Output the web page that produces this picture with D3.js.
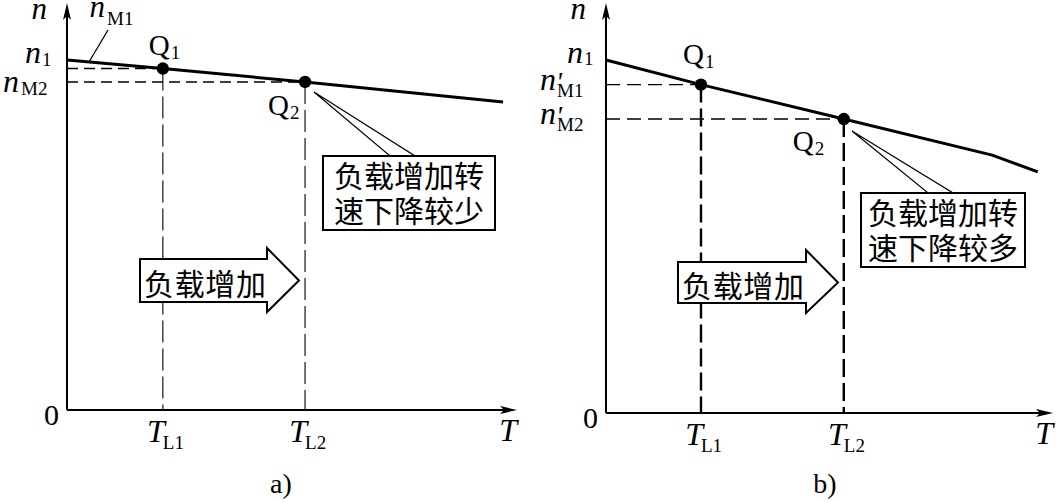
<!DOCTYPE html>
<html>
<head>
<meta charset="utf-8">
<script src="https://cdn.jsdelivr.net/npm/d3@7"></script>
<style>
  html, body { margin: 0; padding: 0; background: #fff; }
  svg { display: block; }
  .serif { font-family: "Liberation Serif", "DejaVu Serif", serif; }
  .cjk { font-family: "Noto Sans CJK SC", "Noto Sans", sans-serif; }
</style>
</head>
<body>
<svg id="chart" width="1056" height="502"></svg>
<script>
// ---------------- data ----------------
// panel a: mechanical characteristic (hard)
const lineA_T = [0, 21.3, 52.9, 96.9];
const lineA_n = [86.0, 83.9, 80.6, 75.7];
const opA_T = [21.3, 52.9];          // T_L1, T_L2
const opA_n = [83.9, 80.6];          // n_M1, n_M2
// panel b: mechanical characteristic (soft)
const lineB_T = [0, 21.25, 53.2, 86.4, 96.6];
const lineB_n = [86.1, 80.1, 71.7, 62.9, 58.8];
const opB_T = [21.25, 53.2];
const opB_n = [80.1, 71.7];

const pointNames = ["Q", "Q"];
const pointSubs = ["1", "2"];
const xTickSubs = ["L1", "L2"];
const captions = ["a)", "b)"];
const noteA = ["负载增加转", "速下降较少"];
const noteB = ["负载增加转", "速下降较多"];
const arrowText = "负载增加";

// ---------------- layout ----------------
const svg = d3.select("#chart");

function drawPanel(cfg) {
  const x = d3.scaleLinear().domain([0, 100]).range(cfg.xRange);
  const y = d3.scaleLinear().domain([0, 100]).range(cfg.yRange);
  const g = svg.append("g");
  const x0 = x(0), y0 = y(0);
  const xEnd = x.range()[1], yTop = y.range()[1];

  // axes
  g.append("line").attr("x1", x0).attr("y1", y0).attr("x2", x0).attr("y2", yTop + 8)
    .attr("stroke", "#000").attr("stroke-width", 2);
  g.append("line").attr("x1", x0).attr("y1", y0).attr("x2", xEnd - 8).attr("y2", y0)
    .attr("stroke", "#000").attr("stroke-width", 2);
  g.append("path")
    .attr("d", `M${x0},${yTop} L${x0 - 4},${yTop + 17} L${x0},${yTop + 13} L${x0 + 4},${yTop + 17} Z`)
    .attr("fill", "#000");
  g.append("path")
    .attr("d", `M${xEnd},${y0} L${xEnd - 17},${y0 - 4} L${xEnd - 13},${y0} L${xEnd - 17},${y0 + 4} Z`)
    .attr("fill", "#000");

  // dashed guides
  cfg.opT.forEach((t, i) => {
    g.append("line").attr("x1", x0).attr("x2", x(t))
      .attr("y1", y(cfg.opN[i])).attr("y2", y(cfg.opN[i]))
      .attr("stroke", "#000").attr("stroke-width", 1.4).attr("stroke-dasharray", cfg.hDash);
    g.append("line").attr("x1", x(t)).attr("x2", x(t))
      .attr("y1", y(cfg.opN[i])).attr("y2", y0)
      .attr("stroke", "#000").attr("stroke-width", cfg.vWidth).attr("stroke-dasharray", cfg.vDash);
  });

  // characteristic line
  const pts = cfg.lineT.map((t, i) => [t, cfg.lineN[i]]);
  g.append("path")
    .attr("d", d3.line().x(d => x(d[0])).y(d => y(d[1]))(pts))
    .attr("fill", "none").attr("stroke", "#000").attr("stroke-width", 3);

  // operating points
  g.selectAll("circle.op").data(cfg.opT).enter().append("circle")
    .attr("cx", d => x(d)).attr("cy", (d, i) => y(cfg.opN[i])).attr("r", 6.2).attr("fill", "#000");

  // point labels
  cfg.opT.forEach((t, i) => {
    const px = x(t), py = y(cfg.opN[i]);
    const off = cfg.qOff[i];
    g.append("text").attr("class", "serif").attr("x", px + off[0]).attr("y", py + off[1])
      .attr("font-size", 29).text(pointNames[i]);
    g.append("text").attr("class", "serif").attr("x", px + off[0] + 22).attr("y", py + off[1] + 4)
      .attr("font-size", 19).text(pointSubs[i]);
  });

  // x tick labels
  cfg.opT.forEach((t, i) => {
    const px = x(t);
    g.append("text").attr("class", "serif").attr("font-style", "italic")
      .attr("x", px + 2).attr("y", y0 + 32).attr("text-anchor", "end").attr("font-size", 32).text("T");
    g.append("text").attr("class", "serif")
      .attr("x", px).attr("y", y0 + 39).attr("font-size", 19).text(xTickSubs[i]);
  });
  g.append("text").attr("class", "serif").attr("font-style", "italic")
    .attr("x", xEnd).attr("y", y0 + 31).attr("text-anchor", "end").attr("font-size", 32).text("T");
  g.append("text").attr("class", "serif")
    .attr("x", x0 - 8).attr("y", y0 + 15).attr("text-anchor", "end").attr("font-size", 30).text("0");
  g.append("text").attr("class", "serif").attr("font-style", "italic")
    .attr("x", x0 - 20).attr("y", yTop + 16).attr("text-anchor", "end").attr("font-size", 31).text("n");

  // caption
  g.append("text").attr("class", "serif")
    .attr("x", cfg.captionX).attr("y", 493).attr("text-anchor", "middle").attr("font-size", 28)
    .text(cfg.caption);

  // load increase arrow
  const a = cfg.arrow;
  g.append("path")
    .attr("d", `M${a.x0},${a.y0} L${a.x1},${a.y0} L${a.x1},${a.hy0} L${a.tip},${(a.y0 + a.y1) / 2} ` +
      `L${a.x1},${a.hy1} L${a.x1},${a.y1} L${a.x0},${a.y1} Z`)
    .attr("fill", "#fff").attr("stroke", "#000").attr("stroke-width", 2);
  g.append("text").attr("class", "cjk")
    .attr("x", a.x0 + 4).attr("y", (a.y0 + a.y1) / 2 + 1).attr("dominant-baseline", "central")
    .attr("font-size", 30).attr("textLength", 122).text(arrowText);

  // callout note
  const b = cfg.box;
  g.append("path")
    .attr("d", `M${b.px},${b.py} L${b.bx0},${b.y0} L${b.bx1},${b.y0} Z`)
    .attr("fill", "#fff").attr("stroke", "#000").attr("stroke-width", 1.2);
  g.append("rect").attr("x", b.x0).attr("y", b.y0).attr("width", b.x1 - b.x0).attr("height", b.y1 - b.y0)
    .attr("fill", "#fff").attr("stroke", "#000").attr("stroke-width", 2);
  const nt = g.append("text").attr("class", "cjk")
    .attr("text-anchor", "middle").attr("font-size", 30);
  cfg.note.forEach((s, i) => {
    nt.append("tspan").attr("x", (b.x0 + b.x1) / 2).attr("y", b.y0 + 31 + i * 35).text(s);
  });

  return { g, x, y };
}

// ---------- panel a ----------
const pa = drawPanel({
  xRange: [67, 517], yRange: [410, 3],
  lineT: lineA_T, lineN: lineA_n, opT: opA_T, opN: opA_n,
  hDash: "11,6", vDash: "22,6", vWidth: 1.1,
  qOff: [[-14, -14], [-37, 33]],
  caption: captions[0], captionX: 281,
  arrow: { x0: 140, x1: 267, y0: 259, y1: 302, hy0: 248, hy1: 312, tip: 299 },
  box: { x0: 323, x1: 495, y0: 156, y1: 230, px: 314, py: 92, bx0: 390, bx1: 415 },
  note: noteA
});
{
  const { g, x, y } = pa;
  // n1 label
  g.append("text").attr("class", "serif").attr("font-style", "italic")
    .attr("x", 41).attr("y", y(lineA_n[0]) + 3).attr("text-anchor", "end").attr("font-size", 32).text("n");
  g.append("text").attr("class", "serif")
    .attr("x", 42).attr("y", y(lineA_n[0]) + 6).attr("font-size", 19).text("1");
  // nM2 label
  g.append("text").attr("class", "serif").attr("font-style", "italic")
    .attr("x", 19).attr("y", y(opA_n[1]) + 10).attr("text-anchor", "end").attr("font-size", 32).text("n");
  g.append("text").attr("class", "serif")
    .attr("x", 21).attr("y", y(opA_n[1]) + 13).attr("font-size", 19).text("M2");
  // nM1 label with leader
  g.append("text").attr("class", "serif").attr("font-style", "italic")
    .attr("x", 105).attr("y", 17).attr("text-anchor", "end").attr("font-size", 31).text("n");
  g.append("text").attr("class", "serif")
    .attr("x", 107).attr("y", 25).attr("font-size", 19).text("M1");
  g.append("line").attr("x1", 108).attr("y1", 30).attr("x2", 89).attr("y2", y(lineA_n[0]) + 2)
    .attr("stroke", "#000").attr("stroke-width", 1.3);
}

// ---------- panel b ----------
const pb = drawPanel({
  xRange: [606, 1053], yRange: [413, 3],
  lineT: lineB_T, lineN: lineB_n, opT: opB_T, opN: opB_n,
  hDash: "14,7", vDash: "18,6", vWidth: 2.4,
  qOff: [[-18, -21], [-51, 32]],
  caption: captions[1], captionX: 825,
  arrow: { x0: 678, x1: 806, y0: 262, y1: 303, hy0: 250, hy1: 313, tip: 838 },
  box: { x0: 861, x1: 1025, y0: 193, y1: 267, px: 852, py: 131, bx0: 928, bx1: 953 },
  note: noteB
});
{
  const { g, x, y } = pb;
  g.append("text").attr("class", "serif").attr("font-style", "italic")
    .attr("x", 583).attr("y", y(lineB_n[0]) + 3).attr("text-anchor", "end").attr("font-size", 32).text("n");
  g.append("text").attr("class", "serif")
    .attr("x", 584).attr("y", y(lineB_n[0]) + 5).attr("font-size", 19).text("1");
  const primes = [["M1", opB_n[0]], ["M2", opB_n[1]]];
  primes.forEach(([s, v]) => {
    g.append("text").attr("class", "serif").attr("font-style", "italic")
      .attr("x", 556).attr("y", y(v) + 5).attr("text-anchor", "end").attr("font-size", 32).text("n");
    const t = g.append("text").attr("class", "serif");
    t.append("tspan").attr("font-style", "italic").attr("font-size", 28)
      .attr("x", 556).attr("y", y(v) + 6).text("'");
    t.append("tspan").attr("font-size", 19)
      .attr("x", 557).attr("y", y(v) + 12).text(s);
  });
}
</script>
</body>
</html>
